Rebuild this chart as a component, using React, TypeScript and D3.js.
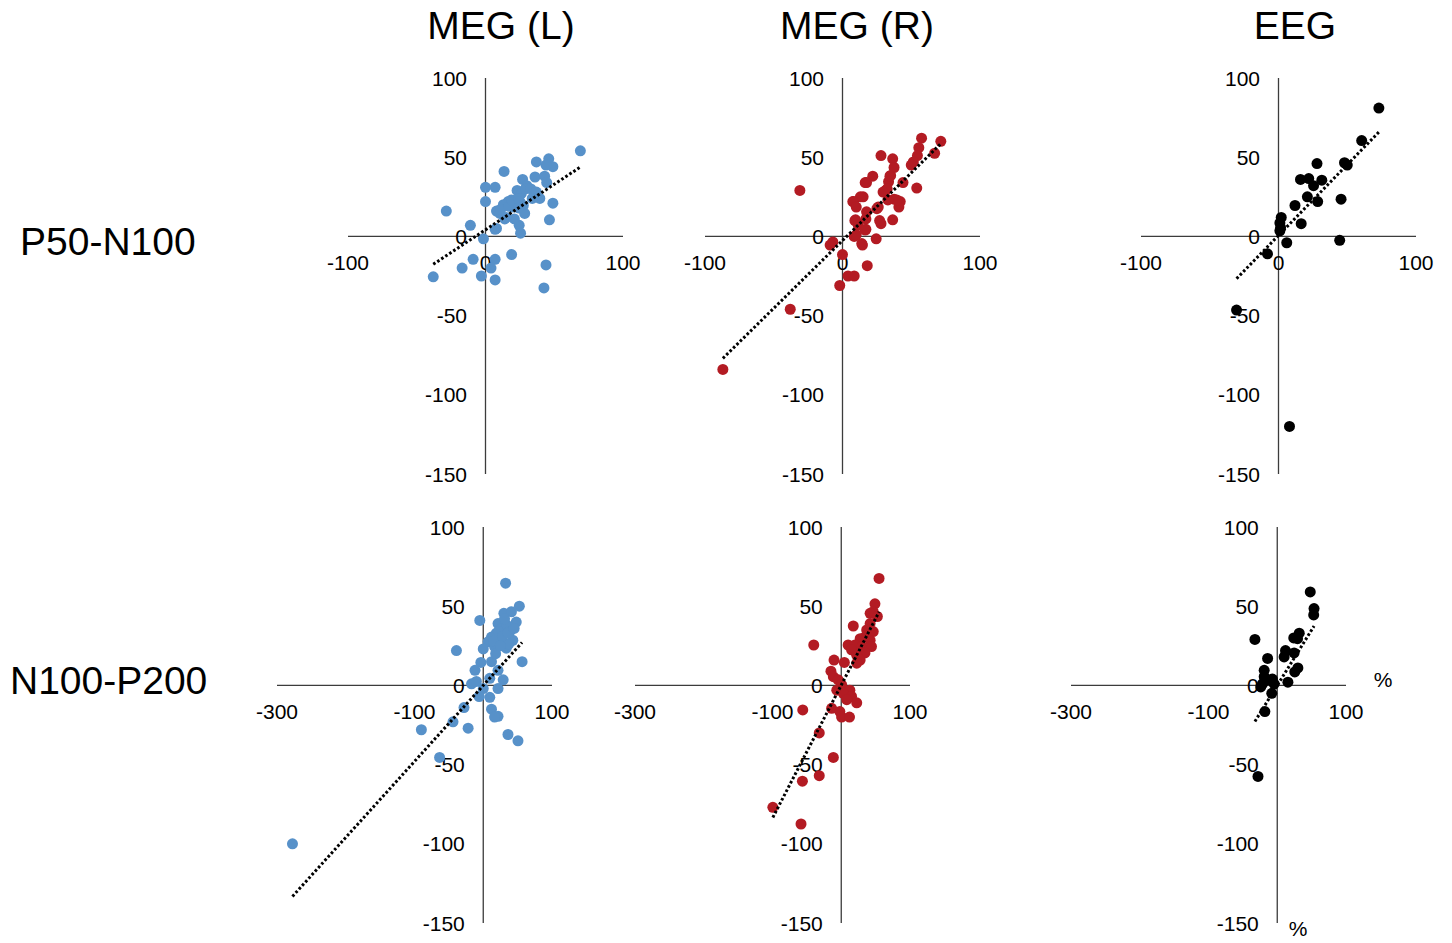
import React from "react";
import * as d3 from "d3";

// ---------- DATA ----------
const columnTitles = ["MEG (L)", "MEG (R)", "EEG"];
const rowTitles = ["P50-N100", "N100-P200"];
const xTicksTop = [-100, 0, 100];
const xTicksBottom = [-300, -100, 100];
const yTicks = [-150, -100, -50, 0, 50, 100];
const xDomainTop = [-100, 100];
const xDomainBottom = [-300, 100];
const yDomain = [-150, 100];

const megL_P50N100: [number, number][] = [
  [69, 54], [46, 49], [37, 47], [49, 44], [44, 45], [13.5, 41], [36, 37.5], [27, 36], [43, 38], [44.5, 34],
  [0, 31], [7, 31], [23, 29], [30, 32], [26, 27], [36, 27.5], [39.5, 24], [49, 21], [0, 22], [16.5, 22],
  [13, 20], [21.5, 22], [20, 18.5], [27.5, 19.5], [8, 16], [10.5, 14.5], [14, 11], [28.5, 14.5], [46.5, 10.5],
  [-28.5, 16], [-11, 7], [7, 4.5], [24.5, 7], [25.5, 2], [-1.5, -1.5], [19, -11.5], [-9, -14.5], [7, -14.5],
  [-17, -20], [4, -20], [44, -18], [-38, -25.5], [-3, -25], [7, -27.5], [42.5, -32.5],
  [11, 17], [17, 19], [19, 23], [24, 24], [25, 22], [29, 30], [33, 30], [37, 28], [34, 24], [21, 11],
  [15, 12], [24, 18], [8, 5],
];
const megR_P50N100: [number, number][] = [
  [-87, -84], [-38, -46], [-31, 29], [-7, -3.5], [-9, -5.5], [0, -11.5], [-2, -31], [4, -25], [8.5, -25],
  [18, -18.5], [71.5, 60], [57.5, 62], [67, 52.5], [55.5, 56], [54.5, 51], [51.5, 47], [50, 45], [54, 30.5],
  [28, 51], [36.5, 49], [37.5, 43.5], [35, 38.5], [22, 38], [17.5, 34], [33.5, 34.5], [44, 34], [31.5, 29],
  [15, 25], [8, 22], [37.5, 23.5], [42, 22], [41, 18.5], [36.5, 10.5], [26, 18.5], [9.5, 10.5], [28, 8],
  [17, 4.5], [24.5, -1.5], [8.5, 0], [14.5, -5.5], [16.5, 34], [32.5, 30], [29.5, 28], [13, 25], [7.5, 22],
  [39.5, 23], [33, 23], [10, 18.5], [17.5, 15.5], [25, 17.5], [9, 10], [17, 11], [27, 10], [11.5, 7],
  [16.5, 4], [10, 1], [14, -4.5], [34.5, 38],
];
const eeg_P50N100: [number, number][] = [
  [73, 81], [60.5, 60.5], [48, 46.5], [50, 45], [28, 46], [16, 36], [22, 36.5], [31.5, 35.5], [25.5, 32],
  [21, 25], [28.5, 22], [45.5, 23.5], [12, 19.5], [16.5, 8], [2, 12], [1, 8.5], [1.5, 5.5], [1, 3.5],
  [6, -4], [44.5, -2.5], [-8, -11], [-30.5, -46.5], [8, -120],
];
const megL_N100P200: [number, number][] = [
  [-277.5, -100], [32.5, 64.5], [52.5, 50], [-5, 41], [30, 45.5], [41, 46.5], [48, 40], [21.5, 39], [26.5, 36],
  [34, 38], [38.5, 34], [19, 33], [12, 30.5], [24, 30.5], [29, 27.5], [43, 28.5], [7, 27.5], [0, 23],
  [16.5, 24.5], [33.5, 23.5], [-39, 22], [56.5, 15], [-3.5, 14.5], [12, 15], [21.5, 9.5], [-12, 9.5],
  [29, 3.5], [9.5, 4.5], [-17, 1], [-10, 2.5], [0, -2], [21.5, -2], [-6, -7], [9.5, -7.5], [-28, -14],
  [12, -15], [21.5, -19.5], [16.5, -20], [-44, -23], [-22, -27], [36, -31], [50.5, -35], [-90, -28],
  [-63.5, -45.5], [15, 28], [22, 34], [28, 31], [37, 26], [18, 20], [25, 25], [31, 42], [36, 33], [45, 36],
];
const megR_N100P200: [number, number][] = [
  [55, 67.5], [49, 51.5], [46.5, 46.5], [42, 45.5], [52.5, 43.5], [17.5, 37.5], [42, 39], [37, 35], [46.5, 34],
  [34.5, 30.5], [27.5, 29.5], [42, 28.5], [10, 25.5], [20, 25.5], [-40, 25.5], [30, 24.5], [44, 24.5],
  [15, 22.5], [34.5, 20.5], [22.5, 19], [27.5, 16], [22.5, 14], [-10.5, 16], [4.5, 14.5], [-15, 9],
  [-11.5, 5.5], [-4.5, 3.5], [0.5, 0.5], [-6.5, -3], [12.5, -3], [3, -5], [15, -7], [8, -9], [22.5, -11],
  [-56, -15.5], [-14, -14.5], [-2, -16.5], [0.5, -20], [12, -20], [-32, -30], [-11.5, -45.5], [-32, -57],
  [-56.5, -60.5], [-99.5, -77], [-58.5, -87.5],
];
const eeg_N100P200: [number, number][] = [
  [48, 59], [53.5, 48.5], [53, 44.5], [-32.5, 29], [24, 30], [32, 33], [29.5, 29.5], [12, 22], [10, 18],
  [24.5, 20.5], [-14, 17], [30, 11], [25.5, 8.5], [-19, 9.5], [-19, 5.5], [-21.5, 1], [-24, -1], [-14, 3.5],
  [-7, 4], [-4.5, 1], [15.5, 2], [-8, -5], [-18, -16.5], [-28, -57.5],
];

// trend lines: [slope, intercept]
const trendTop: [number, number][] = [[0.574, 4.2], [0.855, -2.6], [0.894, 0.6]];
const trendBottom: [number, number][] = [[0.48, 0], [0.84, 0.2], [0.7, 0]];

const seriesColors = ["#5791c9", "#b31b23", "#000000"];

// ---------- LAYOUT ----------
const W = 1452;
const H = 943;
const panelW = 275;
const topX0 = [348, 705, 1141];
const bottomX0 = [277, 635, 1071];
const topY = [78, 474];
const bottomY = [527, 923];
const titleX = [501, 857, 1295];
const tickFont = 21;
const fontFamily = "'Liberation Sans', Arial, Helvetica, sans-serif";

type PanelProps = {
  data: [number, number][];
  x0: number;
  yRange: number[];
  xDomain: number[];
  xTicks: number[];
  trend: [number, number];
  color: string;
};

function Panel({ data, x0, yRange, xDomain, xTicks, trend, color }: PanelProps) {
  const x = d3.scaleLinear().domain(xDomain).range([x0, x0 + panelW]);
  const y = d3.scaleLinear().domain(yDomain).range([yRange[1], yRange[0]]);
  const ext = d3.extent(data, (d) => d[0]) as [number, number];
  const line = d3
    .line<number>()
    .x((v) => x(v))
    .y((v) => y(trend[0] * v + trend[1]));
  const axisColor = "#3c3c3c";
  return (
    <g>
      <line x1={x(xDomain[0])} x2={x(xDomain[1])} y1={y(0)} y2={y(0)} stroke={axisColor} strokeWidth={1.3} />
      <line x1={x(0)} x2={x(0)} y1={y(yDomain[0])} y2={y(yDomain[1])} stroke={axisColor} strokeWidth={1.3} />
      {yTicks.map((t) => (
        <text key={"y" + t} x={x(0) - 18.5} y={y(t) + 7.5} textAnchor="end" fontSize={tickFont} fontFamily={fontFamily} fill="#000">
          {t}
        </text>
      ))}
      {xTicks.map((t) => (
        <text key={"x" + t} x={x(t)} y={y(0) + 34} textAnchor="middle" fontSize={tickFont} fontFamily={fontFamily} fill="#000">
          {t}
        </text>
      ))}
      {data.map((d, i) => (
        <circle key={i} cx={x(d[0])} cy={y(d[1])} r={5.5} fill={color} />
      ))}
      <path d={line(ext) || ""} fill="none" stroke="#000" strokeWidth={3} strokeDasharray="2.6 2.2" />
    </g>
  );
}

export default function App() {
  const topData = [megL_P50N100, megR_P50N100, eeg_P50N100];
  const bottomData = [megL_N100P200, megR_N100P200, eeg_N100P200];
  return (
    <svg width={W} height={H} style={{ position: "absolute", left: 0, top: 0, background: "#fff" }}>
      <rect x={0} y={0} width={W} height={H} fill="#fff" />
      {columnTitles.map((t, i) => (
        <text key={t} x={titleX[i]} y={39} textAnchor="middle" fontSize={39} fontFamily={fontFamily} fill="#000">
          {t}
        </text>
      ))}
      <text x={20} y={255} fontSize={39} fontFamily={fontFamily} fill="#000">
        {rowTitles[0]}
      </text>
      <text x={10} y={694} fontSize={39} fontFamily={fontFamily} fill="#000">
        {rowTitles[1]}
      </text>
      {topData.map((d, i) => (
        <Panel key={"t" + i} data={d} x0={topX0[i]} yRange={topY} xDomain={xDomainTop} xTicks={xTicksTop} trend={trendTop[i]} color={seriesColors[i]} />
      ))}
      {bottomData.map((d, i) => (
        <Panel key={"b" + i} data={d} x0={bottomX0[i]} yRange={bottomY} xDomain={xDomainBottom} xTicks={xTicksBottom} trend={trendBottom[i]} color={seriesColors[i]} />
      ))}
      <text x={1383} y={687} textAnchor="middle" fontSize={tickFont} fontFamily={fontFamily} fill="#000">%</text>
      <text x={1298} y={936} textAnchor="middle" fontSize={tickFont} fontFamily={fontFamily} fill="#000">%</text>
    </svg>
  );
}
